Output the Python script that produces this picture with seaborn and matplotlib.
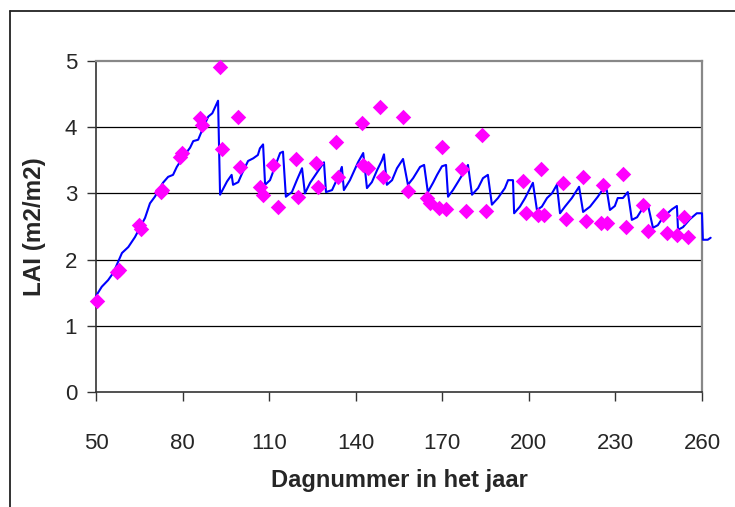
import matplotlib
matplotlib.use("Agg")
import matplotlib.pyplot as plt
import pandas as pd
import seaborn as sns
from matplotlib.lines import Line2D

model_day = [50, 52, 54.2, 56, 59, 61.2, 63.5, 67, 68.7, 70.4, 73.2, 75, 76.7, 78, 80.2, 82.6,
             83.7, 85.4, 87.1, 88.9, 90.3, 92.3, 93, 95.4, 97, 97.5, 99.3, 100.6, 102.7, 104.5,
             106.1, 106.8, 107.9, 108.6, 110.3, 112, 113.8, 114.8, 115.8, 117.9, 119.6, 121.4,
             122.4, 124.2, 127.6, 129, 129.7, 131.8, 133.9, 135.2, 135.9, 138, 140.8, 142.6,
             143.9, 145.6, 147.4, 149.1, 149.8, 150.8, 152.6, 154.3, 156.4, 158.1, 159.9, 162.3,
             163.7, 165, 166.8, 168.2, 169.9, 171.3, 172, 173.7, 175.4, 177.9, 178.9, 180.3,
             182.4, 184.1, 185.8, 187.2, 189.3, 191.7, 192.8, 194.5, 194.9, 196.9, 198.7, 201.4,
             202.8, 204.5, 206.3, 208, 209.7, 210.8, 212.5, 214.9, 217.4, 218.8, 221.2, 223.9,
             225.3, 227, 228.1, 229.8, 230.8, 232.6, 234.3, 235.7, 237.5, 239.5, 241.3, 243,
             244.7, 246.5, 249.6, 251.3, 251.7, 253.4, 255.8, 258.2, 260, 260.3, 262, 263]
model_lai = [1.45, 1.59, 1.69, 1.80, 2.10, 2.19, 2.34, 2.63, 2.85, 2.95, 3.16, 3.25, 3.28, 3.40,
             3.55, 3.69, 3.79, 3.81, 3.99, 4.16, 4.21, 4.40, 2.98, 3.18, 3.28, 3.13, 3.17, 3.30,
             3.49, 3.53, 3.58, 3.68, 3.74, 3.13, 3.20, 3.40, 3.61, 3.63, 2.95, 3.02, 3.20, 3.38,
             3.00, 3.16, 3.38, 3.47, 3.02, 3.05, 3.25, 3.40, 3.05, 3.20, 3.47, 3.61, 3.08, 3.17,
             3.35, 3.50, 3.59, 3.13, 3.20, 3.38, 3.52, 3.13, 3.23, 3.40, 3.43, 3.02, 3.16, 3.28,
             3.41, 3.43, 2.95, 3.05, 3.17, 3.35, 3.43, 2.98, 3.08, 3.23, 3.28, 2.83, 2.93, 3.08,
             3.20, 3.20, 2.70, 2.80, 2.93, 3.16, 2.75, 2.80, 2.93, 3.00, 3.13, 2.70, 2.80, 2.93,
             3.10, 2.72, 2.80, 2.95, 3.04, 3.05, 2.75, 2.81, 2.93, 2.93, 3.02, 2.60, 2.64, 2.78,
             2.82, 2.48, 2.52, 2.64, 2.76, 2.81, 2.45, 2.49, 2.61, 2.70, 2.70, 2.30, 2.30, 2.33]

obs_day = [50.3, 57.3, 58, 64.9, 65.6, 72.5, 73, 79, 79.7, 86, 86.7, 93, 93.7, 99.1, 99.9,
           106.8, 107.9, 111.3, 113, 119.3, 120, 126.2, 126.9, 133.2, 133.9, 142.2, 142.6, 144.3,
           148.5, 149.4, 156.4, 158.1, 164.7, 165.7, 169.9, 168.9, 171.3, 176.8, 178.2, 183.7,
           185.1, 197.9, 199, 204.3, 203.3, 205.4, 211.9, 212.9, 218.8, 219.8, 225.7, 225, 227,
           232.6, 233.6, 239.5, 241.3, 246.5, 247.8, 251.3, 253.7, 255.1]
obs_lai = [1.37, 1.81, 1.84, 2.52, 2.46, 3.02, 3.05, 3.55, 3.61, 4.14, 4.03, 4.91, 3.67, 4.15,
           3.40, 3.10, 2.98, 3.43, 2.80, 3.52, 2.95, 3.46, 3.10, 3.77, 3.25, 4.07, 3.43, 3.39,
           4.31, 3.25, 4.15, 3.04, 2.93, 2.85, 3.70, 2.78, 2.77, 3.37, 2.73, 3.88, 2.73, 3.19,
           2.70, 3.37, 2.67, 2.67, 3.16, 2.61, 3.25, 2.58, 3.13, 2.55, 2.55, 3.29, 2.49, 2.82,
           2.43, 2.67, 2.40, 2.37, 2.64, 2.34]

x_ticks = [50, 80, 110, 140, 170, 200, 230, 260]
y_ticks = [0, 1, 2, 3, 4, 5]

model = pd.DataFrame({"dag": model_day, "lai": model_lai})
obs = pd.DataFrame({"dag": obs_day, "lai": obs_lai})

sns.set_style("white")
plt.rcParams['font.family'] = ['Liberation Sans', 'DejaVu Sans']

fig = plt.figure(figsize=(7.35, 5.07), dpi=100)
ax = fig.add_axes([0.1306, 0.2268, 0.8245, 0.6529])

for y in y_ticks[1:-1]:
    ax.axhline(y, color='black', lw=0.9, zorder=1)

sns.lineplot(data=model, x="dag", y="lai", ax=ax, color='#0000ff', lw=1.5, sort=False,
             estimator=None, zorder=3, clip_on=False)
sns.scatterplot(data=obs, x="dag", y="lai", ax=ax, marker='D', color='#ff00ff', s=62,
                linewidth=0, zorder=4, clip_on=False)

ax.set_xlim(50, 260)
ax.set_ylim(0, 5)
ax.set_xticks(x_ticks)
ax.set_yticks(y_ticks)
ax.tick_params(axis='both', direction='out', length=6.5, width=1, color='#333333',
               labelsize=16, left=True, bottom=True)
ax.tick_params(axis='y', pad=7)
ax.tick_params(axis='x', pad=23)

for side in ['left', 'bottom']:
    ax.spines[side].set_color('#333333')
    ax.spines[side].set_linewidth(1.2)
for side in ['top', 'right']:
    ax.spines[side].set_color('#888888')
    ax.spines[side].set_linewidth(1.6)

ax.set_xlabel('Dagnummer in het jaar', fontsize=17, fontweight='bold')
ax.set_ylabel('LAI (m2/m2)', fontsize=17.5, fontweight='bold')
ax.xaxis.set_label_coords(0.5, -0.232)
ax.yaxis.set_label_coords(-0.082, 0.5)

# outer chart frame (only left and top edges are visible in the reference)
fig.add_artist(Line2D([10 / 735, 10 / 735], [0, 1 - 11 / 507], color='#222222', lw=1.3))
fig.add_artist(Line2D([10 / 735, 1], [1 - 11 / 507, 1 - 11 / 507], color='#222222', lw=1.3))

fig.savefig('out.png', dpi=100)
